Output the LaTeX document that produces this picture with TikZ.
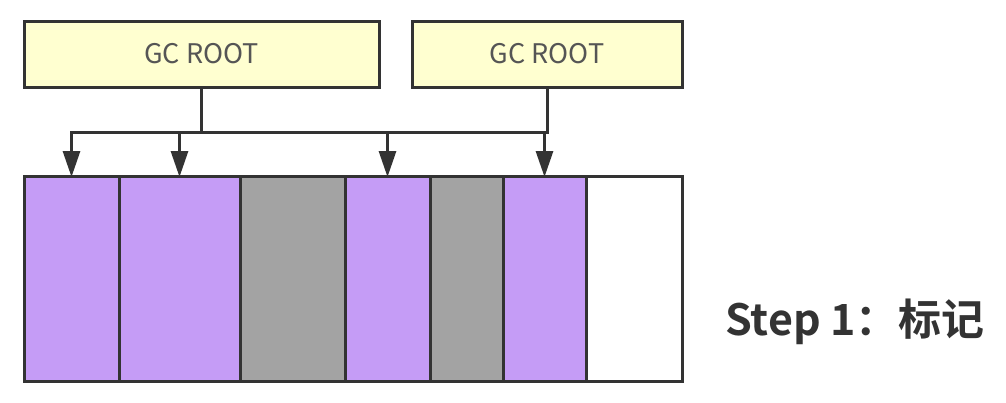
\documentclass[tikz,border=0pt]{standalone}
\usepackage{fontspec}
\setmainfont{Noto Sans CJK SC}
\newfontfamily\cjkbold{Noto Sans CJK SC Bold}
\usetikzlibrary{arrows.meta}
\definecolor{rootfill}{HTML}{FFFFD0}
\definecolor{edge}{HTML}{333333}
\definecolor{live}{HTML}{C59CF6}
\definecolor{dead}{HTML}{A3A3A3}
\definecolor{rtext}{HTML}{555555}
\tikzset{
  rootbox/.style={draw=edge, fill=rootfill, line width=3pt, inner sep=0pt, outer sep=0pt,
    minimum height=66pt, font=\fontsize{27}{32}\selectfont, text=rtext},
  cell/.style={draw=edge, line width=3pt, inner sep=0pt, outer sep=0pt, minimum height=205pt},
  conn/.style={draw=edge, line width=3pt},
  arr/.style={conn, -{Triangle[length=26pt,width=17pt]}, shorten >=-1pt}
}
\begin{document}
\begin{tikzpicture}[x=1pt,y=-1pt]
\useasboundingbox (0,0) rectangle (1006,402);
\node[rootbox, minimum width=355pt] (r1) at (201.5,54) {GC ROOT};
\node[rootbox, minimum width=270pt] (r2) at (547,54) {GC ROOT};
% memory cells
\node[cell, fill=live, minimum width=95pt]  (c1) at (71.5,278.5) {};
\node[cell, fill=live, minimum width=121pt] (c2) at (179.5,278.5) {};
\node[cell, fill=dead, minimum width=105pt] (c3) at (292.5,278.5) {};
\node[cell, fill=live, minimum width=85pt]  (c4) at (387.5,278.5) {};
\node[cell, fill=dead, minimum width=73pt]  (c5) at (466.5,278.5) {};
\node[cell, fill=live, minimum width=83pt]  (c6) at (544.5,278.5) {};
\node[cell, fill=white, minimum width=96pt] (c7) at (634,278.5) {};
\coordinate (bus) at (0,132);
% connectors
\draw[conn] (r1.south) -- (r1.south |- bus);
\draw[conn] (r2.south) -- (r2.south |- bus);
\draw[conn, line cap=rect] (c1.north |- bus) -- (r2.south |- bus);
\draw[arr] (c1.north |- bus) -- (c1.north);
\draw[arr] (c2.north |- bus) -- (c2.north);
\draw[arr] (c4.north |- bus) -- (c4.north);
\draw[arr] (c6.north |- bus) -- (c6.north);
\node[anchor=west, inner sep=0pt, text=edge, font=\cjkbold\fontsize{43}{48}\selectfont] (lbl) at (725,322) {Step 1：标记};
\end{tikzpicture}
\end{document}
